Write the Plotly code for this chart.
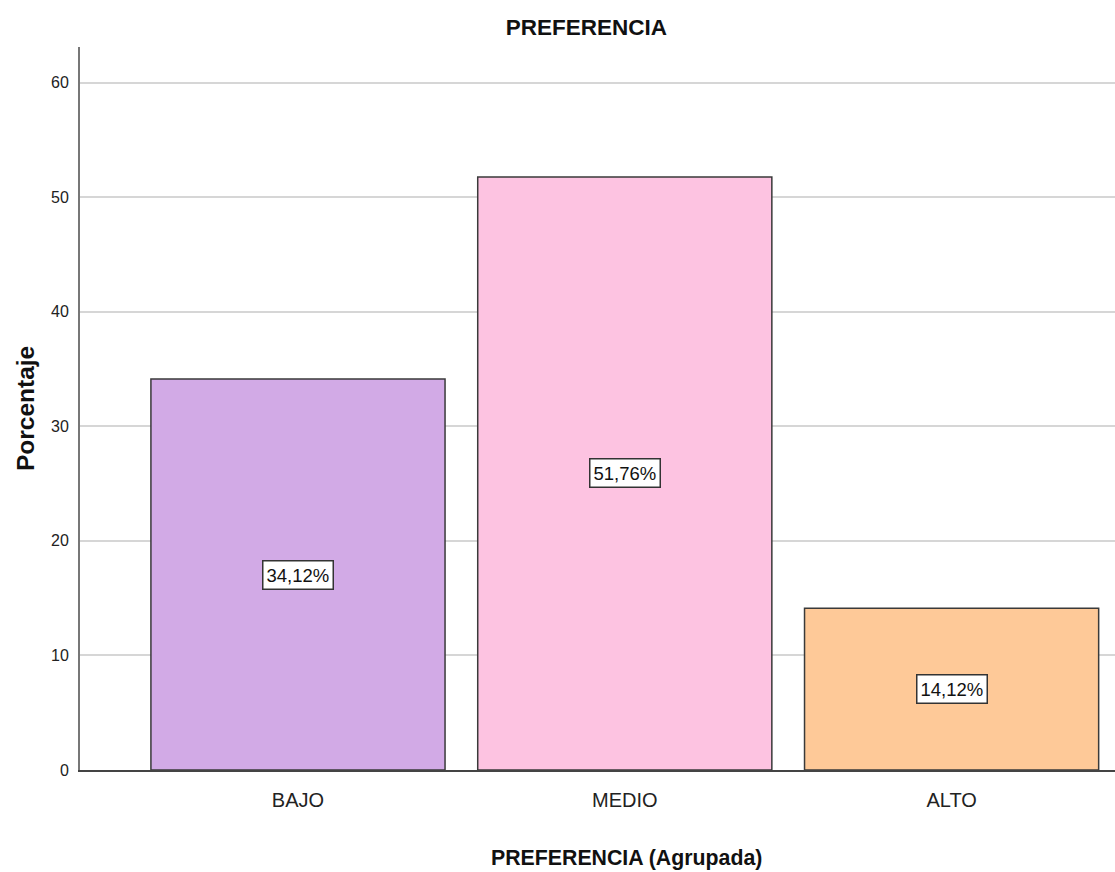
import plotly.graph_objects as go

# Grouped preference levels and their percentages
categorias = ["BAJO", "MEDIO", "ALTO"]
porcentajes = [34.12, 51.76, 14.12]
colores = ["#d2aae6", "#fdc3e1", "#fec998"]
etiquetas = [f"{v:.2f}%".replace(".", ",") for v in porcentajes]
ticks_y = [0, 10, 20, 30, 40, 50, 60]

FONT = "Liberation Sans, Arial, sans-serif"

fig = go.Figure()
fig.add_trace(go.Bar(
    x=categorias,
    y=porcentajes,
    width=0.9,
    marker=dict(color=colores, line=dict(color="#3a3a3a", width=1.5)),
    hoverinfo="skip",
))

# Value labels in white boxes at mid-height of each bar
for cat, val, txt in zip(categorias, porcentajes, etiquetas):
    fig.add_annotation(
        x=cat, y=val / 2, text=txt, showarrow=False,
        font=dict(family=FONT, size=18.5, color="#111111"),
        bgcolor="white", bordercolor="#333333", borderwidth=1.5, borderpad=3,
    )

# Axis titles
fig.add_annotation(
    text="<b>PREFERENCIA (Agrupada)</b>", xref="paper", yref="paper",
    x=0.5285, y=-0.1217, xanchor="center", yanchor="middle", showarrow=False,
    font=dict(family=FONT, size=21.3, color="#111111"),
)
fig.add_annotation(
    text="<b>Porcentaje</b>", xref="paper", yref="paper", textangle=-90,
    x=-0.0531, y=0.4993, xanchor="center", yanchor="middle", showarrow=False,
    font=dict(family=FONT, size=24.5, color="#111111"),
)

fig.update_layout(
    width=1115, height=872,
    margin=dict(l=80, r=0, t=47, b=102),
    paper_bgcolor="white", plot_bgcolor="white",
    showlegend=False,
    title=dict(text="<b>PREFERENCIA</b>", x=0.526, xanchor="center", y=0.969, yanchor="middle",
               font=dict(family=FONT, size=22.5, color="#111111")),
    xaxis=dict(
        range=[-0.667, 2.5], showgrid=False, ticks="",
        showline=True, linecolor="#444444", linewidth=1.5,
        tickfont=dict(family=FONT, size=20, color="#222222"),
        ticklabelstandoff=11,
    ),
    yaxis=dict(
        range=[0, 63.1], tickvals=ticks_y, showgrid=True,
        gridcolor="#d6d6d6", gridwidth=2, zeroline=False,
        showline=True, linecolor="#777777", linewidth=2, ticks="",
        tickfont=dict(family=FONT, size=16, color="#222222"),
        ticklabelstandoff=6,
    ),
)

fig.write_html("out.html")
